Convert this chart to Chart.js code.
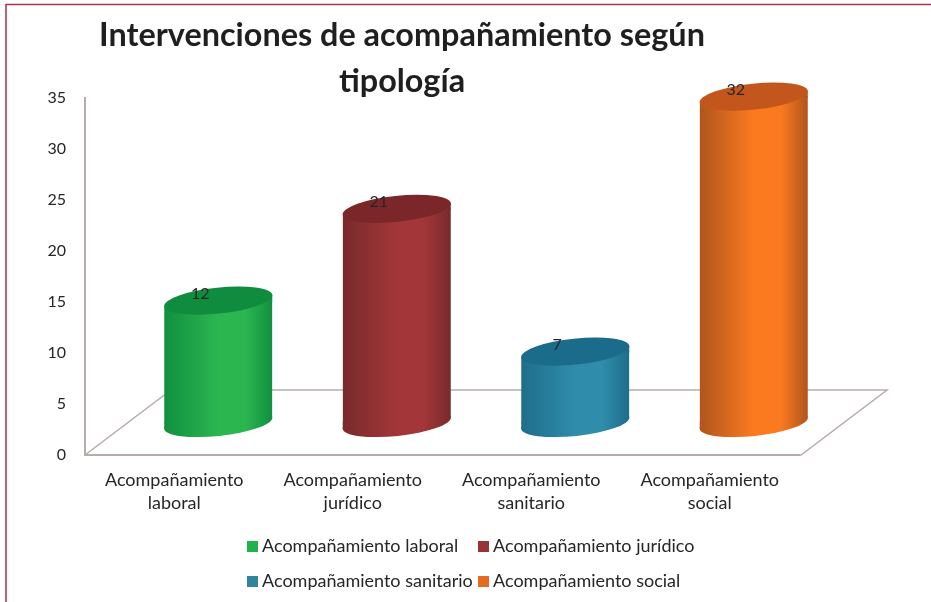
<!DOCTYPE html>
<html lang="es">
<head>
<meta charset="utf-8">
<title>Intervenciones de acompañamiento según tipología</title>
<script src="https://cdn.jsdelivr.net/npm/chart.js@4"></script>
<style>
html,body{margin:0;padding:0;background:#fff}
#wrap{position:relative;width:931px;height:602px}
canvas{display:block}
</style>
</head>
<body>
<div id="wrap"><canvas id="c" width="931" height="602"></canvas></div>
<script>
const categories = ['Acompañamiento laboral','Acompañamiento jurídico','Acompañamiento sanitario','Acompañamiento social'];
const values = [12,21,7,32];
const titleLines = ['Intervenciones de acompañamiento según','tipología'];
const swatchColors = ['#23b14d','#973334','#31849b','#e46c22'];
const edgeColors = ['#11903f','#782a2c','#1e6e8a','#b0551c'];
const midColors = ['#2bb650','#a23638','#2f8cab','#fb7a20'];
const capColors = ['#108c3e','#7b2628','#1b6b8a','#c2561c'];

const FONT = 'Lato';
const INK = '#262626';
const AXIS = '#b8acaa';
const DX = 44, DY = -32;        // cylinder offset in the drawn depth
const FLOOR_DX = 86, FLOOR_DY = -65, FLOOR_EXTRA = 2;
const RY = 13, TILT = -6 * Math.PI / 180;
const LEGEND_X = [247, 478];
const LEGEND_Y = [546.5, 581.5];

function bodyGradient(ctx, left, width, i){
  const g = ctx.createLinearGradient(left, 0, left + width, 0);
  g.addColorStop(0, edgeColors[i]);
  g.addColorStop(0.5, midColors[i]);
  g.addColorStop(0.75, midColors[i]);
  g.addColorStop(1, edgeColors[i]);
  return g;
}
function ell(ctx, x, y, rx){
  ctx.ellipse(x, y, rx, RY, TILT, 0, Math.PI * 2);
}
function tri(ctx, a, b, c, d, e, f){
  ctx.beginPath();
  ctx.moveTo(a, b); ctx.lineTo(c, d); ctx.lineTo(e, f);
  ctx.closePath();
  ctx.fill();
}
const cylinders = {
  id: 'cylinders',
  beforeDraw(chart){
    const {ctx} = chart;
    ctx.save();
    ctx.strokeStyle = '#a8324f';
    ctx.lineWidth = 1.5;
    ctx.beginPath();
    ctx.moveTo(6, 602); ctx.lineTo(6, 4.5); ctx.lineTo(931, 4.5);
    ctx.stroke();
    ctx.restore();
  },
  beforeDatasetsDraw(chart){
    const {ctx, chartArea:a, scales:{y}} = chart;
    const y0 = y.getPixelForValue(0);
    const r = a.right + FLOOR_EXTRA;
    ctx.save();
    ctx.strokeStyle = AXIS;
    ctx.lineWidth = 1.5;
    ctx.beginPath();
    ctx.moveTo(a.left, y0);
    ctx.lineTo(a.left + FLOOR_DX, y0 + FLOOR_DY);
    ctx.lineTo(r + FLOOR_DX, y0 + FLOOR_DY);
    ctx.lineTo(r, y0);
    ctx.lineTo(a.right, y0);
    ctx.stroke();
    ctx.restore();
  },
  beforeDatasetDraw(chart){
    const {ctx} = chart;
    const bars = chart.getDatasetMeta(0).data;
    ctx.save();
    ctx.translate(DX, DY);
    ctx.beginPath();
    const t = Math.tan(TILT);
    bars.forEach(b => {
      const rx = b.width / 2;
      ctx.moveTo(b.x - rx, b.y - rx * t);
      ctx.lineTo(b.x + rx, b.y + rx * t);
      ctx.lineTo(b.x + rx, b.base + rx * t);
      ctx.lineTo(b.x - rx, b.base - rx * t);
      ctx.closePath();
    });
    ctx.clip();
  },
  afterDatasetDraw(chart){
    const {ctx} = chart;
    ctx.restore();
    const bars = chart.getDatasetMeta(0).data;
    const t = Math.tan(TILT);
    ctx.save();
    ctx.translate(DX, DY);
    bars.forEach((b, i) => {
      const half = b.width / 2, rx = half + 0.4;
      ctx.fillStyle = bodyGradient(ctx, b.x - half, b.width, i);
      ctx.beginPath(); ell(ctx, b.x, b.base, rx); ctx.fill();
      tri(ctx, b.x - half, b.base - 1, b.x, b.base - 1, b.x - half, b.base - half * t);
      tri(ctx, b.x + half, b.y + 1, b.x, b.y + 1, b.x + half, b.y + half * t);
      ctx.fillStyle = capColors[i];
      ctx.beginPath(); ell(ctx, b.x, b.y, rx); ctx.fill();
    });
    ctx.restore();
  },
  afterDatasetsDraw(chart){
    const {ctx, scales:{x, y}} = chart;
    ctx.save();
    ctx.font = '16px ' + FONT;
    ctx.fillStyle = INK;
    ctx.textAlign = 'center';
    ctx.textBaseline = 'middle';
    values.forEach((v, i) => {
      ctx.fillText(String(v), x.getPixelForValue(i) + 26, y.getPixelForValue(v) - 39);
    });
    ctx.restore();
  },
  afterDraw(chart){
    const {ctx} = chart;
    ctx.save();
    ctx.font = '18px ' + FONT;
    ctx.textAlign = 'left';
    ctx.textBaseline = 'middle';
    categories.forEach((c, i) => {
      const lx = LEGEND_X[i % 2], ly = LEGEND_Y[Math.floor(i / 2)];
      ctx.fillStyle = swatchColors[i];
      ctx.fillRect(lx, ly - 5.5, 11, 11);
      ctx.fillStyle = INK;
      ctx.fillText(c, lx + 15, ly);
    });
    ctx.restore();
  },
  afterLayout(chart){
    const t = chart.titleBlock;
    if (t){ t.left = 0; t.right = 804; t.top = 13.5; }
  }
};

new Chart(document.getElementById('c'), {
  type: 'bar',
  plugins: [cylinders],
  data: {
    labels: categories,
    datasets: [{
      data: values,
      barThickness: 108,
      clip: false,
      backgroundColor(ctx){
        const chart = ctx.chart;
        if (!chart.chartArea) return swatchColors[ctx.dataIndex];
        const xs = chart.scales.x.getPixelForValue(ctx.dataIndex);
        return bodyGradient(chart.ctx, xs - 54, 108, ctx.dataIndex);
      }
    }]
  },
  options: {
    responsive: false,
    animation: false,
    layout: {padding: {left: 0, right: 132, top: 8, bottom: 81}},
    plugins: {
      tooltip: {enabled: false},
      legend: {display: false},
      title: {
        display: true,
        text: titleLines,
        color: '#1f1f1f',
        font: {family: FONT, size: 32.4, weight: 'bold', lineHeight: 1.39},
        padding: {top: 0, bottom: 0}
      }
    },
    scales: {
      x: {
        grid: {display: false},
        border: {display: true, color: AXIS, width: 2},
        afterFit(s){ s.height = 66; },
        ticks: {
          color: INK,
          font: {family: FONT, size: 18, lineHeight: 1.28},
          padding: 5.5,
          maxRotation: 0,
          autoSkip: false,
          callback(v){ return this.getLabelForValue(v).split(' '); }
        }
      },
      y: {
        min: 0,
        max: 35,
        grid: {display: false},
        border: {display: true, color: AXIS, width: 2},
        afterFit(s){ s.width = 85; },
        ticks: {
          stepSize: 5,
          color: INK,
          font: {family: FONT, size: 16},
          padding: 11
        }
      }
    }
  }
});
</script>
</body>
</html>
